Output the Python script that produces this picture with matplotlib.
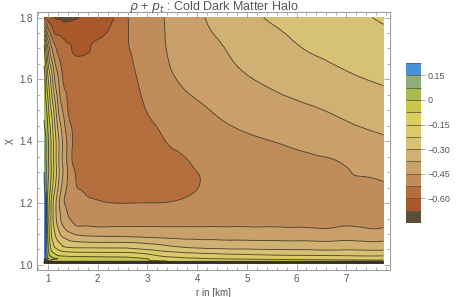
import numpy as np
import matplotlib
matplotlib.use("Agg")
import matplotlib.pyplot as plt
import matplotlib.tri as mtri
from matplotlib.ticker import MultipleLocator, FormatStrFormatter

plt.rcParams['font.family'] = ['Liberation Sans', 'DejaVu Sans']
plt.rcParams['mathtext.fontset'] = 'dejavusans'

# ---- data ----
r_km = [0.92, 0.95, 0.98, 1.02, 1.07, 1.13, 1.2, 1.3, 1.42, 1.55, 1.7, 1.9,
        2.2, 2.6, 3.0, 3.4, 3.8, 4.2, 4.7, 5.3, 6.0, 6.8, 7.75]
chi = [1.004, 1.012, 1.02, 1.03, 1.045, 1.06, 1.08, 1.1, 1.13, 1.17, 1.21,
       1.26, 1.32, 1.4, 1.5, 1.6, 1.7, 1.75, 1.8]
# rho + p_t, one row per chi value (bottom to top), one column per r value
rho_pt = [
    [-0.9] * 23,
    [-0.3, -0.05, -0.02, -0.02, -0.025, -0.03, -0.035, -0.04, -0.045, -0.05, -0.055, -0.058,
     -0.062, -0.065, -0.068, -0.075, -0.09, -0.1, -0.11, -0.118, -0.124, -0.128, -0.132],
    [0.2, 0.165, 0.10, 0.06, 0.03, 0.01, 0.0, -0.01, -0.02, -0.025, -0.03, -0.035,
     -0.04, -0.045, -0.075, -0.11, -0.135, -0.148, -0.155, -0.16, -0.165, -0.169, -0.173],
    [0.22, 0.165, 0.08, 0.012, -0.02, -0.05, -0.075, -0.085, -0.09, -0.093, -0.095, -0.096,
     -0.097, -0.1, -0.13, -0.17, -0.19, -0.2, -0.21, -0.217, -0.222, -0.225, -0.228],
    [0.22, 0.16, 0.065, -0.012, -0.075, -0.11, -0.135, -0.158, -0.168, -0.172, -0.174, -0.175,
     -0.176, -0.178, -0.2, -0.235, -0.255, -0.265, -0.272, -0.278, -0.282, -0.285, -0.288],
    [0.22, 0.16, 0.06, -0.035, -0.1, -0.155, -0.185, -0.225, -0.24, -0.245, -0.245, -0.246,
     -0.247, -0.248, -0.27, -0.295, -0.31, -0.318, -0.323, -0.327, -0.33, -0.333, -0.335],
    [0.22, 0.16, 0.05, -0.055, -0.133, -0.19, -0.232, -0.27, -0.302, -0.318, -0.325, -0.33,
     -0.333, -0.335, -0.345, -0.356, -0.365, -0.37, -0.375, -0.378, -0.381, -0.383, -0.385],
    [0.22, 0.16, 0.04, -0.067, -0.15, -0.215, -0.268, -0.33, -0.36, -0.38, -0.39, -0.395,
     -0.397, -0.398, -0.402, -0.405, -0.408, -0.41, -0.412, -0.414, -0.416, -0.417, -0.418],
    [0.22, 0.16, 0.03, -0.075, -0.165, -0.245, -0.315, -0.38, -0.42, -0.452, -0.458, -0.46,
     -0.462, -0.462, -0.462, -0.463, -0.463, -0.463, -0.463, -0.464, -0.465, -0.466, -0.467],
    [0.215, 0.16, 0.025, -0.075, -0.168, -0.262, -0.338, -0.41, -0.46, -0.475, -0.485, -0.492,
     -0.497, -0.50, -0.502, -0.503, -0.502, -0.50, -0.498, -0.495, -0.492, -0.487, -0.483],
    [0.205, 0.15, 0.03, -0.065, -0.158, -0.255, -0.34, -0.435, -0.48, -0.50, -0.512, -0.522,
     -0.532, -0.535, -0.533, -0.53, -0.52, -0.51, -0.50, -0.495, -0.492, -0.49, -0.488],
    [0.16, 0.10, 0.037, -0.03, -0.105, -0.195, -0.288, -0.394, -0.47, -0.52, -0.535, -0.545,
     -0.555, -0.558, -0.555, -0.545, -0.533, -0.52, -0.505, -0.49, -0.478, -0.468, -0.458],
    [0.135, 0.10, 0.05, -0.008, -0.083, -0.172, -0.27, -0.38, -0.475, -0.54, -0.56, -0.57,
     -0.575, -0.575, -0.565, -0.55, -0.53, -0.515, -0.50, -0.485, -0.468, -0.455, -0.435],
    [0.10, 0.085, 0.045, -0.015, -0.09, -0.18, -0.275, -0.385, -0.48, -0.55, -0.57, -0.58,
     -0.585, -0.58, -0.56, -0.522, -0.502, -0.485, -0.47, -0.455, -0.437, -0.415, -0.39],
    [0.065, 0.03, -0.01, -0.085, -0.16, -0.25, -0.36, -0.455, -0.535, -0.555, -0.565, -0.57,
     -0.57, -0.558, -0.522, -0.49, -0.47, -0.453, -0.43, -0.408, -0.39, -0.367, -0.337],
    [0.03, -0.02, -0.095, -0.175, -0.26, -0.365, -0.44, -0.525, -0.545, -0.555, -0.56, -0.562,
     -0.558, -0.543, -0.50, -0.462, -0.437, -0.415, -0.39, -0.37, -0.345, -0.318, -0.29],
    [-0.05, -0.15, -0.24, -0.35, -0.44, -0.50, -0.54, -0.575, -0.597, -0.607, -0.607, -0.597,
     -0.575, -0.53, -0.49, -0.448, -0.42, -0.395, -0.368, -0.34, -0.305, -0.28, -0.253],
    [-0.25, -0.34, -0.43, -0.50, -0.55, -0.60, -0.612, -0.622, -0.627, -0.628, -0.625, -0.615,
     -0.597, -0.528, -0.488, -0.445, -0.415, -0.383, -0.355, -0.322, -0.29, -0.262, -0.235],
    [-0.60, -0.62, -0.635, -0.65, -0.665, -0.674, -0.685, -0.698, -0.70, -0.685, -0.665, -0.645,
     -0.625, -0.528, -0.483, -0.442, -0.407, -0.371, -0.34, -0.302, -0.275, -0.248, -0.218],
]
levels = [-0.75, -0.675, -0.6, -0.525, -0.45, -0.375, -0.3, -0.225, -0.15, -0.075, 0.0, 0.075, 0.15, 0.225]
band_colors = ['#5e4c3a', '#a9582c', '#b46e3e', '#c08c5a', '#c99f6a', '#d0b073', '#d7c174',
               '#dbc96c', '#d8cf5e', '#c8c84c', '#aaba50', '#90ae78', '#4a8fd8']
cbar_ticks = [0.15, 0.0, -0.15, -0.30, -0.45, -0.60]
cbar_labels = ['0.15', '0', '\u22120.15', '\u22120.30', '\u22120.45', '\u22120.60']
title = r'$\rho$ + $p_t$ : Cold Dark Matter Halo'

# ---- figure ----
W, H = 463, 297
fig = plt.figure(figsize=(W / 100, H / 100), dpi=100)
ax = fig.add_axes([37 / W, 1 - 270 / H, (390 - 37) / W, (270 - 12) / H])

RR, CC = np.meshgrid(r_km, chi)
Z = np.array(rho_pt)
nr, nc = len(chi), len(r_km)
tris = []
for i in range(nr - 1):
    for j in range(nc - 1):
        a = i * nc + j
        tris.append([a, a + 1, a + nc + 1])
        tris.append([a, a + nc + 1, a + nc])
tri = mtri.Triangulation(RR.ravel(), CC.ravel(), np.array(tris))
refiner = mtri.UniformTriRefiner(tri)
tri_f, z_cub = refiner.refine_field(Z.ravel(), subdiv=3)
# near the singular edge chi -> 1 use the library's linear interpolant (no overshoot)
z_lin = np.asarray(mtri.LinearTriInterpolator(tri, Z.ravel())(tri_f.x, tri_f.y))
w = np.clip((tri_f.y - chi[2]) / (chi[8] - chi[2]), 0.0, 1.0)
z_f = w * z_cub + (1.0 - w) * z_lin

cf = ax.tricontourf(tri_f, z_f, levels=levels, colors=band_colors)
ax.tricontour(tri_f, z_f, levels=levels, colors='#3a3024', linewidths=0.65,
              linestyles='solid', alpha=0.85)

ax.set_xlim(0.779, 7.881)
ax.set_ylim(0.9835, 1.818)
gray = '#a0a0a0'
for s in ax.spines.values():
    s.set_color(gray)
    s.set_linewidth(0.8)
ax.xaxis.set_major_locator(MultipleLocator(1))
ax.xaxis.set_minor_locator(MultipleLocator(0.2))
ax.yaxis.set_major_locator(MultipleLocator(0.2))
ax.yaxis.set_minor_locator(MultipleLocator(0.05))
ax.tick_params(which='both', direction='in', top=True, right=True, color=gray,
               labelcolor='#555555', labelsize=7, width=0.6)
ax.tick_params(which='major', length=4, pad=3)
ax.tick_params(which='minor', length=2)
ax.yaxis.set_major_formatter(FormatStrFormatter('%.1f'))
ax.set_xlabel('r in [km]', fontsize=7, color='#555555', labelpad=3)
ax.set_ylabel('\u03c7', fontsize=8, color='#555555', labelpad=4)
fig.text(214 / W, 1 - 7 / H, title, ha='center', va='center', fontsize=9, color='#555555')

cax = fig.add_axes([406 / W, 1 - 223 / H, 15 / W, 160 / H])
cb = fig.colorbar(cf, cax=cax, drawedges=True)
cb.outline.set_visible(False)
cb.dividers.set_color('#6a5a45')
cb.dividers.set_linewidth(0.6)
cb.set_ticks(cbar_ticks)
cb.set_ticklabels(cbar_labels)
cax.tick_params(length=3, width=0.6, color=gray, labelcolor='#555555', labelsize=6.5, pad=2)

fig.savefig('out.png', dpi=100)
